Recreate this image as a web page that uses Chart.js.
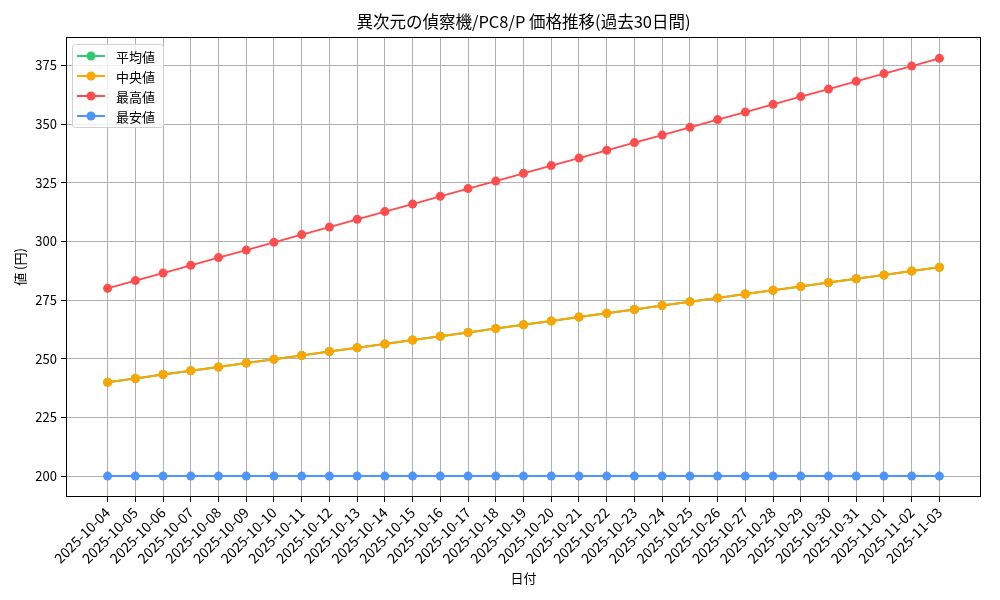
<!DOCTYPE html>
<html>
<head>
<meta charset="utf-8">
<script src="https://cdn.jsdelivr.net/npm/chart.js@4"></script>
<style>
  html, body { margin: 0; padding: 0; background: #fff; }
  #wrap { width: 1000px; height: 600px; }
</style>
</head>
<body>
<div id="wrap"><canvas id="myChart" width="1000" height="600"></canvas></div>
<script>
var FONT = '"Noto Sans CJK JP", "DejaVu Sans", sans-serif';

var titleText = '異次元の偵察機/PC8/P 価格推移(過去30日間)';
var dates = [
    '2025-10-04', '2025-10-05', '2025-10-06', '2025-10-07', '2025-10-08', '2025-10-09',
    '2025-10-10', '2025-10-11', '2025-10-12', '2025-10-13', '2025-10-14', '2025-10-15',
    '2025-10-16', '2025-10-17', '2025-10-18', '2025-10-19', '2025-10-20', '2025-10-21',
    '2025-10-22', '2025-10-23', '2025-10-24', '2025-10-25', '2025-10-26', '2025-10-27',
    '2025-10-28', '2025-10-29', '2025-10-30', '2025-10-31', '2025-11-01', '2025-11-02',
    '2025-11-03'
];
var meanVals = [240, 241.6, 243.3, 244.9, 246.5, 248.2, 249.8, 251.4, 253.1, 254.7, 256.3,
    258, 259.6, 261.2, 262.9, 264.5, 266.1, 267.8, 269.4, 271, 272.7, 274.3, 275.9, 277.6,
    279.2, 280.8, 282.5, 284.1, 285.7, 287.4, 289];
var medianVals = [240, 241.6, 243.3, 244.9, 246.5, 248.2, 249.8, 251.4, 253.1, 254.7, 256.3,
    258, 259.6, 261.2, 262.9, 264.5, 266.1, 267.8, 269.4, 271, 272.7, 274.3, 275.9, 277.6,
    279.2, 280.8, 282.5, 284.1, 285.7, 287.4, 289];
var maxVals = [280, 283.3, 286.5, 289.8, 293.1, 296.3, 299.6, 302.9, 306.1, 309.4, 312.7,
    315.9, 319.2, 322.5, 325.7, 329, 332.3, 335.5, 338.8, 342.1, 345.3, 348.6, 351.9, 355.1,
    358.4, 361.7, 364.9, 368.2, 371.5, 374.7, 378];
var minVals = [200, 200, 200, 200, 200, 200, 200, 200, 200, 200, 200, 200, 200, 200, 200,
    200, 200, 200, 200, 200, 200, 200, 200, 200, 200, 200, 200, 200, 200, 200, 200];
var yTicks = [200, 225, 250, 275, 300, 325, 350, 375];

var seriesNames = ['平均値', '中央値', '最高値', '最安値'];
var seriesColors = ['#2ecc71', '#ffa500', '#ff4d4d', '#4d94ff'];
var seriesData = [meanVals, medianVals, maxVals, minVals];

function toPoints(vals) {
    return vals.map(function(v, i) { return { x: i, y: v }; });
}

// later series on top, like matplotlib
var datasets = seriesData.map(function(vals, k) {
    return {
        label: seriesNames[k],
        data: toPoints(vals),
        order: seriesData.length - k,
        borderColor: seriesColors[k],
        backgroundColor: seriesColors[k],
        borderWidth: 2,
        pointRadius: 4.5,
        pointHoverRadius: 4.5,
        pointBorderWidth: 0,
        tension: 0
    };
});

// frame, title and matplotlib-like legend
var decor = {
    id: 'decor',
    afterDraw: function(chart) {
        var ctx = chart.ctx, a = chart.chartArea;
        ctx.save();
        ctx.strokeStyle = '#000';
        ctx.lineWidth = 1;
        ctx.strokeRect(a.left + 0.5, a.top + 0.5, a.right - a.left - 1, a.bottom - a.top - 1);

        ctx.fillStyle = '#000';
        ctx.font = '16.5px ' + FONT;
        ctx.textAlign = 'center';
        ctx.textBaseline = 'middle';
        ctx.fillText(titleText, (a.left + a.right) / 2, 22);

        var lx = a.left + 6, ly = a.top + 7, lw = 91, lh = 83;
        ctx.fillStyle = 'rgba(255,255,255,0.8)';
        ctx.strokeStyle = '#d0d0d0';
        ctx.beginPath();
        ctx.roundRect(lx + 0.5, ly + 0.5, lw, lh, 3);
        ctx.fill();
        ctx.stroke();
        ctx.font = '13px ' + FONT;
        ctx.textAlign = 'left';
        for (var k = 0; k < seriesNames.length; k++) {
            var yy = ly + 12 + k * 20;
            ctx.strokeStyle = seriesColors[k];
            ctx.lineWidth = 2;
            ctx.beginPath();
            ctx.moveTo(lx + 5, yy);
            ctx.lineTo(lx + 33, yy);
            ctx.stroke();
            ctx.fillStyle = seriesColors[k];
            ctx.beginPath();
            ctx.arc(lx + 19, yy, 4.5, 0, Math.PI * 2);
            ctx.fill();
            ctx.fillStyle = '#000';
            ctx.fillText(seriesNames[k], lx + 44, yy + 1);
        }
        ctx.restore();
    }
};

var ctx = document.getElementById('myChart').getContext('2d');
var myChart = new Chart(ctx, {
    type: 'line',
    data: { datasets: datasets },
    options: {
        responsive: false,
        animation: false,
        events: [],
        layout: { padding: { left: 0, top: 37, right: 19, bottom: 0 } },
        plugins: {
            legend: { display: false },
            title: { display: false },
            tooltip: { enabled: false }
        },
        scales: {
            x: {
                type: 'linear',
                min: -1.5,
                max: dates.length - 1 + 1.5,
                afterBuildTicks: function(axis) {
                    axis.ticks = dates.map(function(d, i) { return { value: i }; });
                },
                afterFit: function(scale) { scale.height = 103; },
                ticks: {
                    autoSkip: false,
                    minRotation: 45,
                    maxRotation: 45,
                    color: '#000',
                    font: { family: FONT, size: 14 },
                    padding: 2,
                    callback: function(v) { return dates[v]; }
                },
                grid: { color: '#b0b0b0', lineWidth: 1, tickColor: '#000', tickLength: 5 },
                border: { display: false },
                title: {
                    display: true, text: '日付', color: '#000',
                    font: { family: FONT, size: 13 },
                    padding: { top: 0, bottom: 14 }
                }
            },
            y: {
                min: 191.1,
                max: 387.1,
                afterBuildTicks: function(axis) {
                    axis.ticks = yTicks.map(function(v) { return { value: v }; });
                },
                afterFit: function(scale) { scale.width = 66; },
                ticks: {
                    color: '#000',
                    font: { family: FONT, size: 13 },
                    padding: 4
                },
                grid: { color: '#b0b0b0', lineWidth: 1, tickColor: '#000', tickLength: 5 },
                border: { display: false },
                title: {
                    display: true, text: '値 (円)', color: '#000',
                    font: { family: FONT, size: 13 },
                    padding: { top: 12, bottom: 0 }
                }
            }
        }
    },
    plugins: [decor]
});
</script>
</body>
</html>
